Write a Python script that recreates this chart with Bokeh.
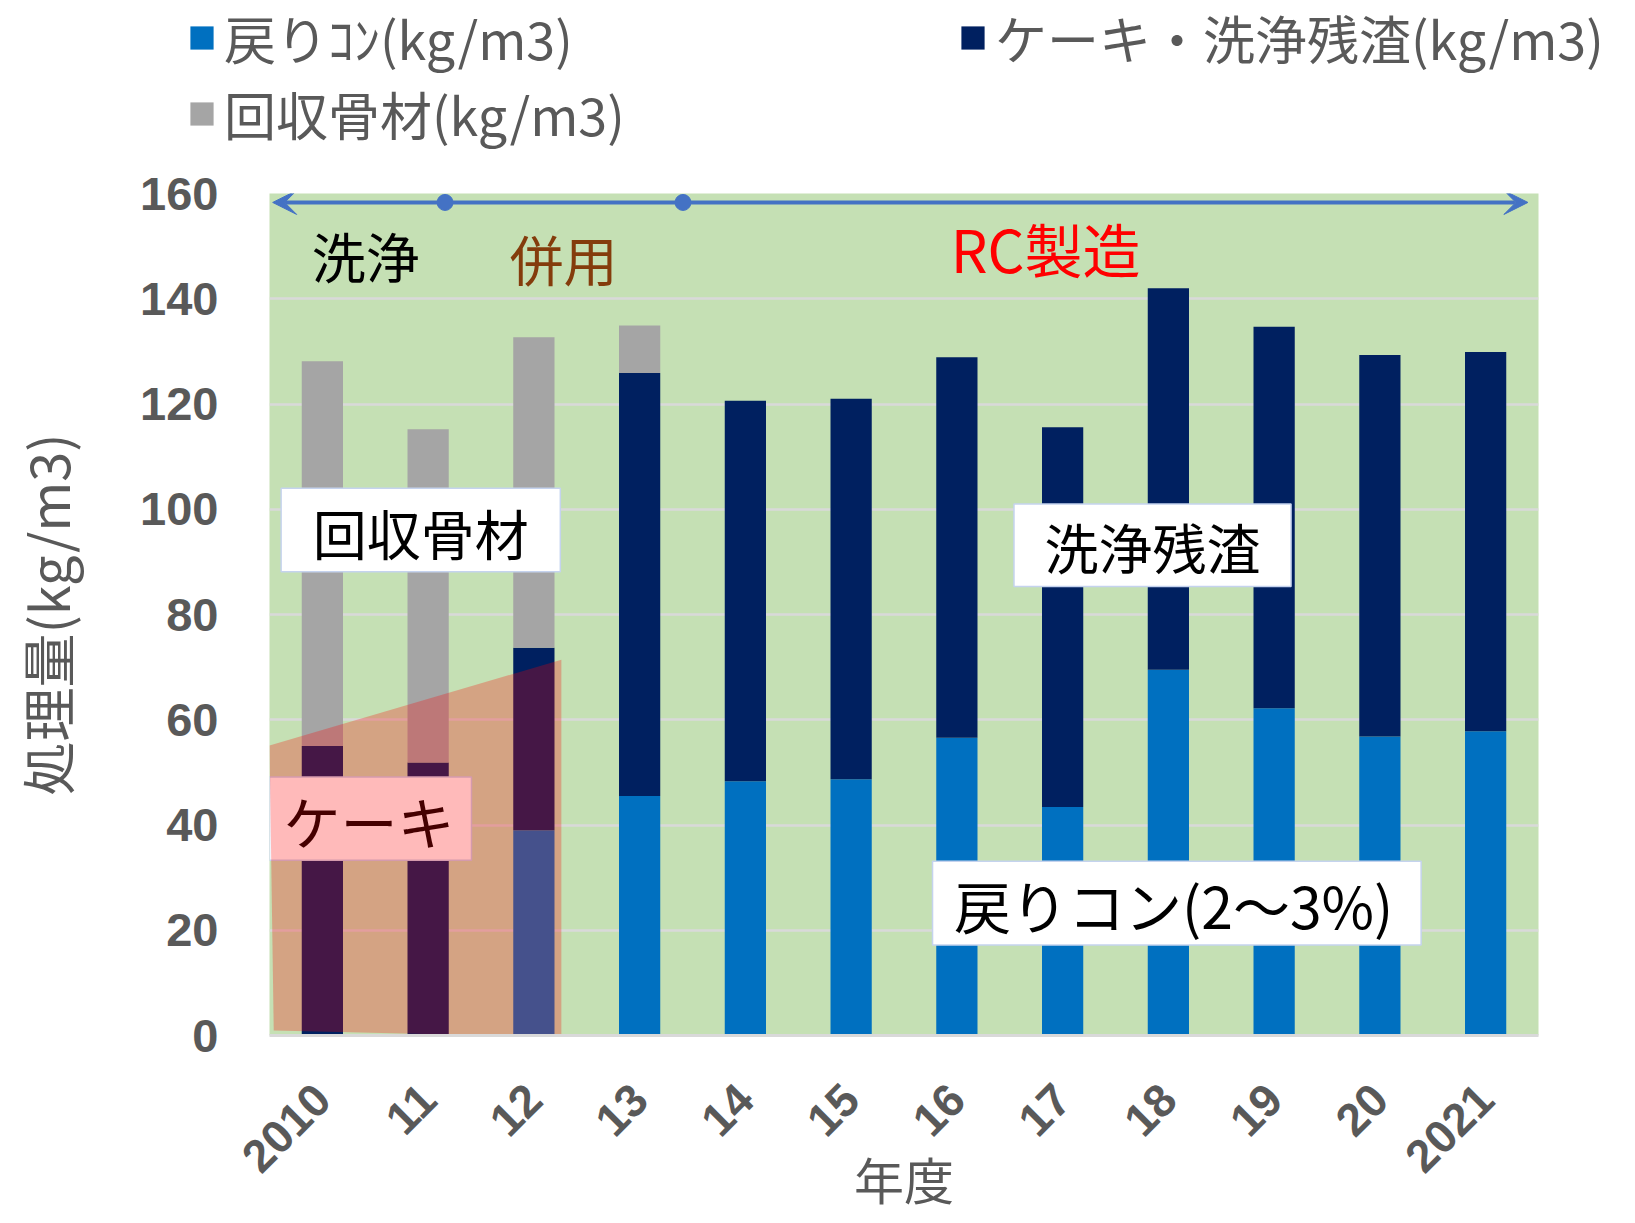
import math
from bokeh.plotting import figure
from bokeh.layouts import column
from bokeh.models import (Legend, LegendItem, Label, Arrow, VeeHead, ColumnDataSource,
                          FactorRange, Range1d, FixedTicker)
from bokeh.core.properties import value
from bokeh.embed import file_html
from bokeh.resources import INLINE

# ---- data ----
years = ["2010", "11", "12", "13", "14", "15", "16", "17", "18", "19", "20", "2021"]
modori = [0, 0, 39.0, 45.5, 48.3, 48.7, 56.6, 43.4, 69.5, 62.2, 56.8, 57.8]
cake = [55.0, 51.9, 34.7, 80.4, 72.3, 72.3, 72.3, 72.2, 72.5, 72.5, 72.5, 72.1]
kaishu = [73.1, 63.3, 59.0, 9.0, 0, 0, 0, 0, 0, 0, 0, 0]
series_names = ["戻りｺﾝ(kg/m3)", "ケーキ・洗浄残渣(kg/m3)", "回収骨材(kg/m3)"]
series_colors = ["#0070C0", "#002060", "#A5A5A5"]
y_ticks = [0, 20, 40, 60, 80, 100, 120, 140, 160]

JP = "Noto Sans CJK JP"
GRAY = "#595959"
W = 1625

src = ColumnDataSource(dict(year=years, modori=modori, cake=cake, kaishu=kaishu))

# ---------------- main chart ----------------
p = figure(x_range=FactorRange(*years), y_range=Range1d(0, 160),
           width=W, height=1052, output_backend="svg", toolbar_location=None,
           min_border_left=269, min_border_right=87, min_border_top=25, min_border_bottom=185)
p.frame_align = False

p.background_fill_color = "#C5E0B4"
p.border_fill_color = "white"
p.outline_line_color = None
p.xgrid.visible = False
p.ygrid.grid_line_color = "#D9D9D9"
p.ygrid.grid_line_width = 2.5
p.yaxis.ticker = FixedTicker(ticks=y_ticks)

renderers = p.vbar_stack(["modori", "cake", "kaishu"], x="year", width=0.39,
                         color=series_colors, line_color=None, source=src)

p.yaxis.axis_line_color = None
p.yaxis.major_tick_line_color = None
p.yaxis.minor_tick_line_color = None
p.yaxis.major_label_text_font = "Liberation Sans"
p.yaxis.major_label_text_font_style = "bold"
p.yaxis.major_label_text_font_size = "47px"
p.yaxis.major_label_text_color = GRAY
p.yaxis.major_label_standoff = 45
p.yaxis.axis_label = "処理量(kg/m3)"
p.yaxis.axis_label_text_font = JP
p.yaxis.axis_label_text_font_style = "normal"
p.yaxis.axis_label_text_font_size = "54px"
p.yaxis.axis_label_text_color = GRAY
p.yaxis.axis_label_standoff = 51

p.xaxis.axis_line_color = "#D9D9D9"
p.xaxis.axis_line_width = 3
p.xaxis.major_tick_line_color = None
p.xaxis.minor_tick_line_color = None
p.xaxis.major_label_orientation = math.pi / 4
p.xaxis.major_label_text_font = "Liberation Sans"
p.xaxis.major_label_text_font_style = "bold"
p.xaxis.major_label_text_font_size = "46px"
p.xaxis.major_label_text_color = GRAY
p.xaxis.major_label_standoff = 50
p.xaxis.axis_label = "年度"
p.xaxis.axis_label_text_font = JP
p.xaxis.axis_label_text_font_style = "normal"
p.xaxis.axis_label_text_font_size = "50px"
p.xaxis.axis_label_text_color = GRAY
p.xaxis.axis_label_standoff = -47

# white text boxes
boxes = [
    (0.11, 2.75, 104.0, 88.1, "回収骨材", 1.43, 95.5, "54px"),
    (7.04, 9.66, 101.0, 85.3, "洗浄残渣", 8.35, 93.0, "54px"),
    (6.27, 10.89, 33.1, 17.2, "戻りコン(2～3%)", 8.55, 25.0, "57px"),
    (0.0, 1.91, 49.1, 33.3, "ケーキ", 0.94, 41.0, "57px"),
]
for l, r, t, b, txt, tx, ty, fs in boxes:
    p.quad(left=[l], right=[r], top=[t], bottom=[b], fill_color="white",
           line_color="#C5D3EE", line_width=1.5)
    p.text(x=[tx], y=[ty], text=[txt], text_font=value(JP), text_font_size=fs,
           text_align="center", text_baseline="middle", text_color="black")

# translucent red overlay for the cake period
p.patch(x=[0.0, 2.76, 2.76, 0.04], y=[55.1, 71.4, -0.3, 0.95],
        fill_color="#FF0000", fill_alpha=0.27, line_color=None)

# top period arrow
arrow_color = "#4472C4"
p.add_layout(Arrow(start=VeeHead(size=24, fill_color=arrow_color, line_color=arrow_color),
                   end=VeeHead(size=24, fill_color=arrow_color, line_color=arrow_color),
                   x_start=0.03, y_start=158.3, x_end=11.9, y_end=158.3,
                   line_color=arrow_color, line_width=4))
p.scatter(x=[1.66, 3.91], y=[158.3, 158.3], size=16, color=arrow_color)

for txt, tx, ty, col, fs in [("洗浄", 0.91, 148.2, "black", "54px"),
                             ("併用", 2.78, 147.6, "#843C0C", "54px"),
                             ("RC製造", 7.34, 149.6, "#FF0000", "58px")]:
    p.add_layout(Label(x=tx, y=ty, text=txt, text_align="center", text_baseline="middle",
                       text_font=JP, text_font_size=fs, text_color=col))

# ---------------- legend strip above the chart ----------------
LH = 168
lf = figure(width=W, height=LH, x_range=Range1d(0, 1), y_range=Range1d(0, 1),
            x_axis_type=None, y_axis_type=None, output_backend="svg", toolbar_location=None,
            min_border=0)
lf.frame_align = False
lf.grid.visible = False
lf.outline_line_color = None
lf.background_fill_color = "white"
# zero-size swatch renderers that only feed the legend
swatches = [lf.vbar(x=[0.5], top=[0], bottom=[0], width=0.0, fill_color=c, line_color=None)
            for c in series_colors]

def add_legend(idx, vx, vy):
    lg = Legend(items=[LegendItem(label=series_names[idx], renderers=[swatches[idx]], index=0)],
                location=(vx, vy), orientation="vertical",
                label_text_font=JP, label_text_font_size="52px", label_text_color=GRAY,
                glyph_width=29, glyph_height=29, label_standoff=8,
                padding=0, margin=0, spacing=0,
                border_line_color=None, background_fill_alpha=0)
    lf.add_layout(lg, "center")

add_legend(0, 187, 93)
add_legend(1, 958, 93)
add_legend(2, 187, 17)

layout = column(lf, p, spacing=0)
open("out.html", "w").write(file_html(layout, INLINE))
